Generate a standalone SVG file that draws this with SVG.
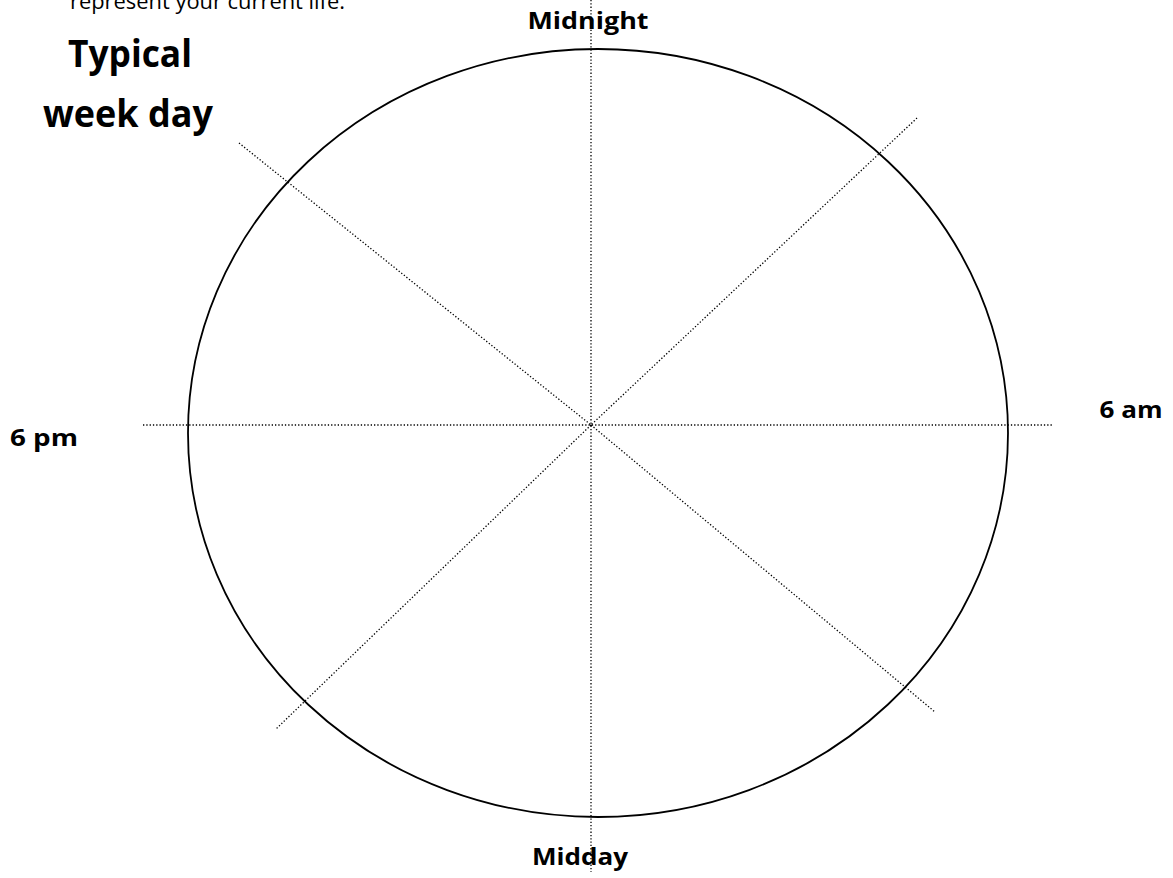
<svg xmlns="http://www.w3.org/2000/svg" width="1173" height="878" viewBox="0 0 1173 878">
<style>
.lbl{font-family:"Open Sans","Liberation Sans",sans-serif;font-weight:bold;fill:#000}
.dot{stroke:#000;stroke-width:1.3;stroke-dasharray:1.3 2;fill:none}
</style>
<rect width="1173" height="878" fill="#fff"/>
<text x="70" y="9" style="font-family:'Open Sans','Liberation Sans',sans-serif;font-size:21px;fill:#000" textLength="275" lengthAdjust="spacingAndGlyphs">represent your current life.</text>
<g id="title">
<text class="lbl" x="130" y="67" text-anchor="middle" font-size="37" textLength="124" lengthAdjust="spacingAndGlyphs">Typical</text>
<text class="lbl" x="128" y="127" text-anchor="middle" font-size="37" textLength="170" lengthAdjust="spacingAndGlyphs">week day</text>
</g>
<g id="clock">
<ellipse cx="598" cy="433" rx="410" ry="384" fill="none" stroke="#000" stroke-width="1.8"/>
</g>
<g id="connectors">
<line class="dot" x1="591" y1="0" x2="591" y2="872"/>
<line class="dot" x1="143" y1="425" x2="1053" y2="425"/>
<line class="dot" x1="239" y1="143" x2="591" y2="425"/>
<line class="dot" x1="591" y1="425" x2="935" y2="712"/>
<line class="dot" x1="917" y1="118" x2="591" y2="425"/>
<line class="dot" x1="591" y1="425" x2="276" y2="729"/>
</g>
<g id="label-midnight"><text class="lbl" x="588" y="29" text-anchor="middle" font-size="22.5" textLength="121" lengthAdjust="spacingAndGlyphs">Midnight</text></g>
<g id="label-6am"><text class="lbl" x="1131" y="418" text-anchor="middle" font-size="22.5" textLength="63" lengthAdjust="spacingAndGlyphs">6 am</text></g>
<g id="label-6pm"><text class="lbl" x="44" y="446" text-anchor="middle" font-size="22.5" textLength="68" lengthAdjust="spacingAndGlyphs">6 pm</text></g>
<g id="label-midday"><text class="lbl" x="580" y="865" text-anchor="middle" font-size="22.5" textLength="96" lengthAdjust="spacingAndGlyphs">Midday</text></g>
</svg>
